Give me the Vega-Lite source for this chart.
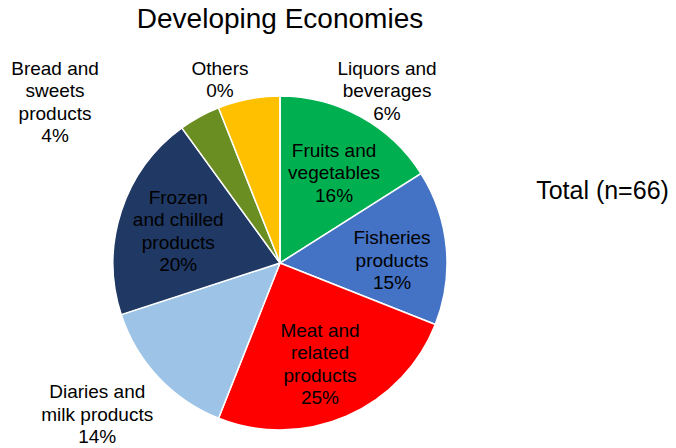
{
  "$schema": "https://vega.github.io/schema/vega-lite/v6.json",
  "padding": {"top": 5, "left": 0, "right": 0, "bottom": 0},
  "background": "white",
  "spacing": 0,
  "bounds": "flush",
  "config": {"view": {"stroke": null}, "font": "Liberation Sans"},
  "datasets": {
    "shares": [
      {"order": 1, "category": "Fruits and vegetables", "share": 16, "label": "Fruits and\nvegetables\n16%"},
      {"order": 2, "category": "Fisheries products", "share": 15, "label": "Fisheries\nproducts\n15%"},
      {"order": 3, "category": "Meat and related products", "share": 25, "label": "Meat and\nrelated\nproducts\n25%"},
      {"order": 4, "category": "Diaries and milk products", "share": 14, "label": "Diaries and\nmilk products\n14%"},
      {"order": 5, "category": "Frozen and chilled products", "share": 20, "label": "Frozen\nand chilled\nproducts\n20%"},
      {"order": 6, "category": "Bread and sweets products", "share": 4, "label": "Bread and\nsweets\nproducts\n4%"},
      {"order": 7, "category": "Liquors and beverages", "share": 6, "label": "Liquors and\nbeverages\n6%"},
      {"order": 8, "category": "Others", "share": 0, "label": "Others\n0%"}
    ]
  },
  "hconcat": [
    {
      "width": 560,
      "height": 370,
      "title": {"text": "Developing Economies", "fontSize": 28, "fontWeight": "normal", "font": "Liberation Sans", "color": "black", "offset": 26, "frame": "group", "anchor": "middle"},
      "data": {"name": "shares"},
      "encoding": {
        "theta": {"field": "share", "type": "quantitative", "stack": true},
        "order": {"field": "order", "type": "quantitative"}
      },
      "layer": [
        {
          "mark": {"type": "arc", "radius": 167, "stroke": "white", "strokeWidth": 1.5},
          "encoding": {
            "color": {
              "field": "category", "type": "nominal", "legend": null,
              "scale": {
                "domain": ["Fruits and vegetables", "Fisheries products", "Meat and related products", "Diaries and milk products", "Frozen and chilled products", "Bread and sweets products", "Liquors and beverages", "Others"],
                "range": ["#00B050", "#4472C4", "#FF0000", "#9DC3E6", "#203864", "#6B8E23", "#FFC000", "#A5A5A5"]
              }
            }
          }
        },
        {
          "mark": {
            "type": "text", "fontSize": 19, "lineBreak": "\n", "lineHeight": 22.5, "color": "black", "font": "Liberation Sans",
            "radius": {"expr": "datum.category === 'Diaries and milk products' ? 237 : (datum.category === 'Bread and sweets products' || datum.category === 'Liquors and beverages' || datum.category === 'Others') ? 200 : 107"},
            "dx": {"expr": "datum.category === 'Fruits and vegetables' ? 2.5 : datum.category === 'Fisheries products' ? 5.5 : datum.category === 'Meat and related products' ? -2.5 : datum.category === 'Diaries and milk products' ? -10 : datum.category === 'Bread and sweets products' ? -128.6 : datum.category === 'Liquors and beverages' ? 144.5 : datum.category === 'Others' ? -60 : 0"},
            "dy": {"expr": "datum.category === 'Fruits and vegetables' ? -18.5 : datum.category === 'Fisheries products' ? -14.5 : datum.category === 'Meat and related products' ? -30.25 : datum.category === 'Diaries and milk products' ? -33 : datum.category === 'Frozen and chilled products' ? -32.25 : datum.category === 'Bread and sweets products' ? -18.95 : datum.category === 'Liquors and beverages' ? 2 : datum.category === 'Others' ? 5.75 : 0"}
          },
          "encoding": {"text": {"field": "label", "type": "nominal"}}
        }
      ]
    },
    {
      "width": 116,
      "height": 226,
      "data": {"values": [{"note": "Total (n=66)"}]},
      "mark": {"type": "text", "fontSize": 25, "dx": -15.5, "color": "black", "font": "Liberation Sans"},
      "encoding": {"text": {"field": "note", "type": "nominal"}}
    }
  ]
}
